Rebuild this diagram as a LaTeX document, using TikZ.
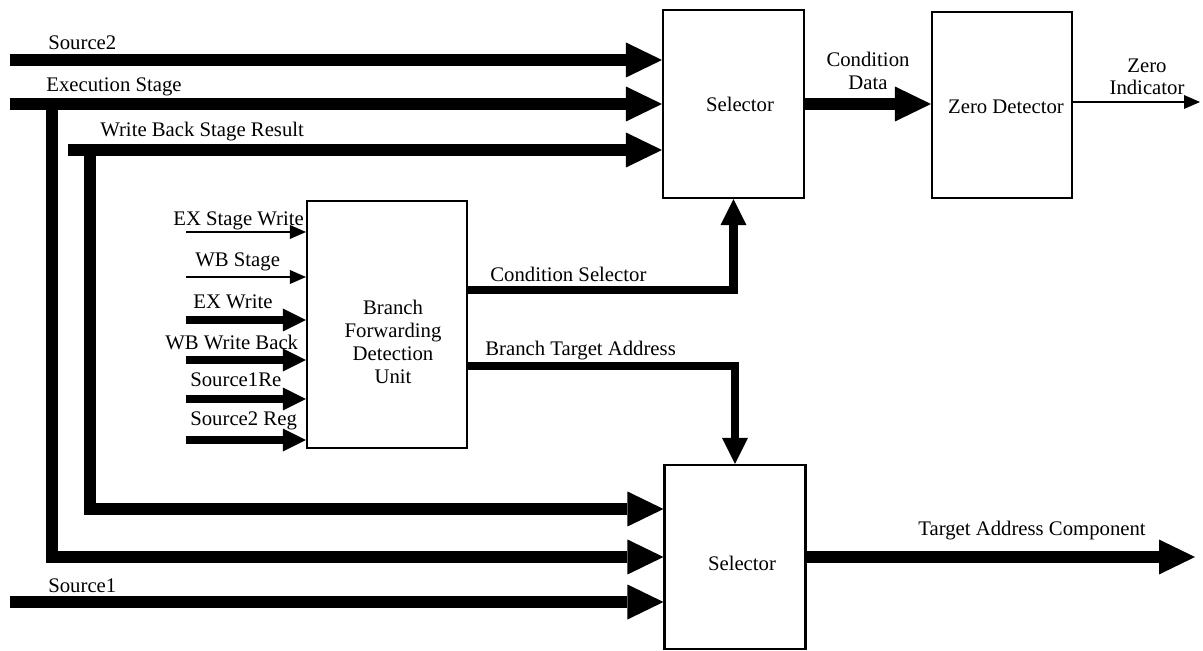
\documentclass[tikz,border=0pt]{standalone}
\usepackage{fontspec}
\setmainfont{Liberation Serif}
\usetikzlibrary{arrows.meta}
\begin{document}
\begin{tikzpicture}[x=0.02cm,y=-0.02cm,
  font=\fontsize{11.8}{13}\selectfont,
  block/.style={draw, line width=1.2pt, inner sep=0pt},
  lbl/.style={inner sep=0pt, anchor=base west},
  clbl/.style={inner sep=0pt, anchor=base},
  bus/.style={line width=0.24cm, line join=miter,
    -{Triangle[length=0.72cm,width=0.70cm,line width=0pt]}},
  midbus/.style={line width=0.17cm, line join=miter,
    -{Triangle[length=0.52cm,width=0.52cm,line width=0pt]}},
  inbus/.style={line width=0.15cm,
    -{Triangle[length=0.46cm,width=0.46cm,line width=0pt]}},
  wire/.style={line width=1.1pt,
    -{Triangle[length=0.32cm,width=0.28cm,line width=0pt]}},
]
\useasboundingbox (0,0) rectangle (1203,651);

% functional blocks
\node[block, minimum width=2.82cm, minimum height=3.76cm] (topsel) at (733.5,104) {};
\node[inner sep=0pt] (topseltxt) at (740,104) {Selector};
\node[block, minimum width=2.80cm, minimum height=3.72cm] (zd) at (1002,105) {};
\node[inner sep=0pt] (zdtxt) at (1006,107) {Zero Detector};
\node[block, minimum width=3.20cm, minimum height=4.94cm] (bfdu) at (387,324.5) {};
\node[inner sep=0pt, align=center] (bfdutxt) at (393,342)
  {Branch\\Forwarding\\Detection\\Unit};
\node[block, minimum width=2.82cm, minimum height=3.68cm] (botsel) at (735,557) {};
\node[inner sep=0pt] (botseltxt) at (742,563) {Selector};

% bus start points
\coordinate (s2) at (10,60);
\coordinate (ex) at (10,104);
\coordinate (exv) at (52,104);
\coordinate (exb) at (52,557);
\coordinate (wb) at (68,150);
\coordinate (wbv) at (90,150);
\coordinate (wbb) at (90,509);
\coordinate (s1) at (10,602);

% buses into the condition selector
\draw[bus] (s2) -- (s2 -| topsel.west);
\draw[bus] (ex) -- (ex -| topsel.west);
\draw[bus] (wb) -- (wb -| topsel.west);

% forwarded values routed down to the target selector
\draw[bus] (wbv) -- (wbb) -- (wbb -| botsel.west);
\draw[bus] (exv) -- (exb) -- (exb -| botsel.west);
\draw[bus] (s1) -- (s1 -| botsel.west);

% bus labels
\node[lbl] (ls2) at (48,50) {Source2};
\node[lbl] (lex) at (46,92) {Execution Stage};
\node[lbl] (lwb) at (100,137) {Write Back Stage Result};
\node[lbl] (ls1) at (48,592) {Source1};

% inputs of the forwarding detection unit
\coordinate (i1) at (186,232);
\coordinate (i2) at (186,277);
\coordinate (i3) at (186,320);
\coordinate (i4) at (186,360);
\coordinate (i5) at (186,399);
\coordinate (i6) at (186,440);
\draw[wire] (i1) -- (i1 -| bfdu.west);
\draw[wire] (i2) -- (i2 -| bfdu.west);
\draw[inbus] (i3) -- (i3 -| bfdu.west);
\draw[inbus] (i4) -- (i4 -| bfdu.west);
\draw[inbus] (i5) -- (i5 -| bfdu.west);
\draw[inbus] (i6) -- (i6 -| bfdu.west);
\node[lbl] (li1) at (173,226) {EX Stage Write};
\node[lbl] (li2) at (195,267) {WB Stage};
\node[lbl] (li3) at (193,309) {EX Write};
\node[lbl] (li4) at (165,350) {WB Write Back};
\node[lbl] (li5) at (190,387) {Source1Re};
\node[lbl] (li6) at (190,426) {Source2 Reg};

% outputs of the forwarding detection unit
\coordinate (cs) at (467,290);
\coordinate (bt) at (467,366);
\draw[midbus] (cs -| bfdu.east) -| (topsel.south);
\draw[midbus] (bt -| bfdu.east) -| (botsel.north);
\node[lbl] (lcs) at (490,282) {Condition Selector};
\node[lbl] (lbt) at (485,356) {Branch Target Address};

% condition data to the zero detector
\draw[bus] (topsel.east) -- (topsel.east -| zd.west);
\node[clbl] (lcd1) at (868,67) {Condition};
\node[clbl] (lcd2) at (868,90) {Data};

% zero indicator output
\coordinate (zi) at (1200,102);
\draw[wire] (zi -| zd.east) -- (zi);
\node[clbl] (lzi1) at (1147,73) {Zero};
\node[clbl] (lzi2) at (1147,95) {Indicator};

% target address output
\coordinate (tac) at (1195,557);
\draw[bus] (botsel.east) -- (tac);
\node[lbl] (ltac) at (918,535) {Target Address Component};
\end{tikzpicture}
\end{document}
